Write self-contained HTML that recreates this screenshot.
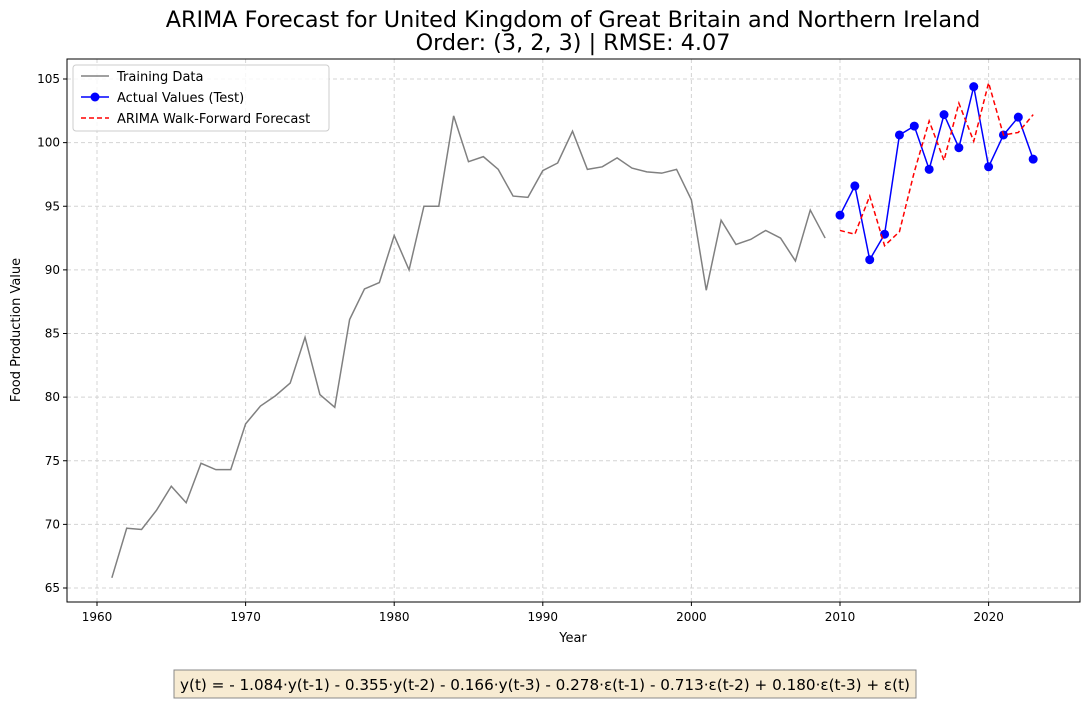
<!DOCTYPE html>
<html><head><meta charset="utf-8"><style>
body{margin:0;background:#fff;font-family:"Liberation Sans","DejaVu Sans",sans-serif}
svg text{font-family:"DejaVu Sans","Liberation Sans",sans-serif}
</style></head><body>
<svg id="c" width="1089" height="701" xmlns="http://www.w3.org/2000/svg">
<text x="573" y="27" font-size="22.3" text-anchor="middle">ARIMA Forecast for United Kingdom of Great Britain and Northern Ireland</text>
<text x="573" y="50" font-size="22.3" text-anchor="middle">Order: (3, 2, 3) | RMSE: 4.07</text>
<g id="grid"></g><g id="ticks"></g><g id="series"></g>
<rect x="67" y="59" width="1013" height="543" fill="none" stroke="#000" stroke-width="1"/>
<text x="573" y="642" font-size="13" text-anchor="middle">Year</text>
<text transform="translate(20,330) rotate(-90)" font-size="13" text-anchor="middle">Food Production Value</text>
<g>
<rect x="73" y="65" width="256" height="66" rx="3" fill="#fff" fill-opacity="0.8" stroke="#ccc"/>
<line x1="81" y1="76" x2="109" y2="76" stroke="gray" stroke-width="1.5"/>
<text x="117" y="81" font-size="13">Training Data</text>
<line x1="81" y1="97" x2="109" y2="97" stroke="blue" stroke-width="1.5"/><circle cx="95" cy="97" r="4.5" fill="blue"/>
<text x="117" y="102" font-size="13">Actual Values (Test)</text>
<line x1="81" y1="118" x2="109" y2="118" stroke="red" stroke-width="1.5" stroke-dasharray="5,3"/>
<text x="117" y="123" font-size="13">ARIMA Walk-Forward Forecast</text>
</g>
<g>
<rect x="174" y="670" width="742" height="28" fill="#f7ebd2" stroke="#888"/>
<text x="545" y="690" font-size="15.2" text-anchor="middle">y(t) = - 1.084·y(t-1) - 0.355·y(t-2) - 0.166·y(t-3) - 0.278·ε(t-1) - 0.713·ε(t-2) + 0.180·ε(t-3) + ε(t)</text>
</g>
</svg>
<script>
const trainYears=[1961,1962,1963,1964,1965,1966,1967,1968,1969,1970,1971,1972,1973,1974,1975,1976,1977,1978,1979,1980,1981,1982,1983,1984,1985,1986,1987,1988,1989,1990,1991,1992,1993,1994,1995,1996,1997,1998,1999,2000,2001,2002,2003,2004,2005,2006,2007,2008,2009];
const trainValues=[65.8,69.7,69.6,71.1,73.0,71.7,74.8,74.3,74.3,77.9,79.3,80.1,81.1,84.7,80.2,79.2,86.1,88.5,89.0,92.7,90.0,95.0,95.0,102.1,98.5,98.9,97.9,95.8,95.7,97.8,98.4,100.9,97.9,98.1,98.8,98.0,97.7,97.6,97.9,95.5,88.4,93.9,92.0,92.4,93.1,92.5,90.7,94.7,92.5];
const testYears=[2010,2011,2012,2013,2014,2015,2016,2017,2018,2019,2020,2021,2022,2023];
const testValues=[94.3,96.6,90.8,92.8,100.6,101.3,97.9,102.2,99.6,104.4,98.1,100.6,102.0,98.7];
const forecastValues=[93.1,92.8,95.8,91.9,93.0,97.7,101.7,98.6,103.1,100.1,104.7,100.6,100.8,102.2];
const xTicks=[1960,1970,1980,1990,2000,2010,2020];
const yTicks=[65,70,75,80,85,90,95,100,105];
const NS='http://www.w3.org/2000/svg';
const X=v=>97+(v-1960)*14.86;
const Y=v=>588-(v-65)*12.725;
function mk(p,t,a){const e=document.createElementNS(NS,t);for(const k in a)e.setAttribute(k,a[k]);document.getElementById(p).appendChild(e);return e;}
xTicks.forEach(t=>{
 const g=mk('grid','line',{x1:X(t),x2:X(t),y1:59,y2:602,stroke:'#d4d4d4','stroke-dasharray':'4,3'});
 
 
 mk('ticks','line',{x1:X(t),x2:X(t),y1:602,y2:606,stroke:'#000'});
 const tx=mk('ticks','text',{x:X(t),y:621,'font-size':12,'text-anchor':'middle'});tx.textContent=t;
 
 
});
yTicks.forEach(t=>{
 const g=mk('grid','line',{x1:67,x2:1080,y1:Y(t),y2:Y(t),stroke:'#d4d4d4','stroke-dasharray':'4,3'});
 
 
 mk('ticks','line',{x1:63,x2:67,y1:Y(t),y2:Y(t),stroke:'#000'});
 const tx=mk('ticks','text',{x:60,y:Y(t)+4,'font-size':12,'text-anchor':'end'});tx.textContent=t;
 
 
});
const pts=(xs,ys)=>xs.map((x,i)=>X(x)+','+Y(ys[i])).join(' ');
const tr=mk('series','polyline',{points:pts(trainYears,trainValues),fill:'none',stroke:'gray','stroke-width':1.5});


const te=mk('series','polyline',{points:pts(testYears,testValues),fill:'none',stroke:'blue','stroke-width':1.5});


testYears.forEach((y,i)=>{
 const c=mk('series','circle',{cx:X(y),cy:Y(testValues[i]),r:4.5,fill:'blue'});
 
 
});
const fc=mk('series','polyline',{points:pts(testYears,forecastValues),fill:'none',stroke:'red','stroke-width':1.5,'stroke-dasharray':'5,3'});


</script>
</body></html>
